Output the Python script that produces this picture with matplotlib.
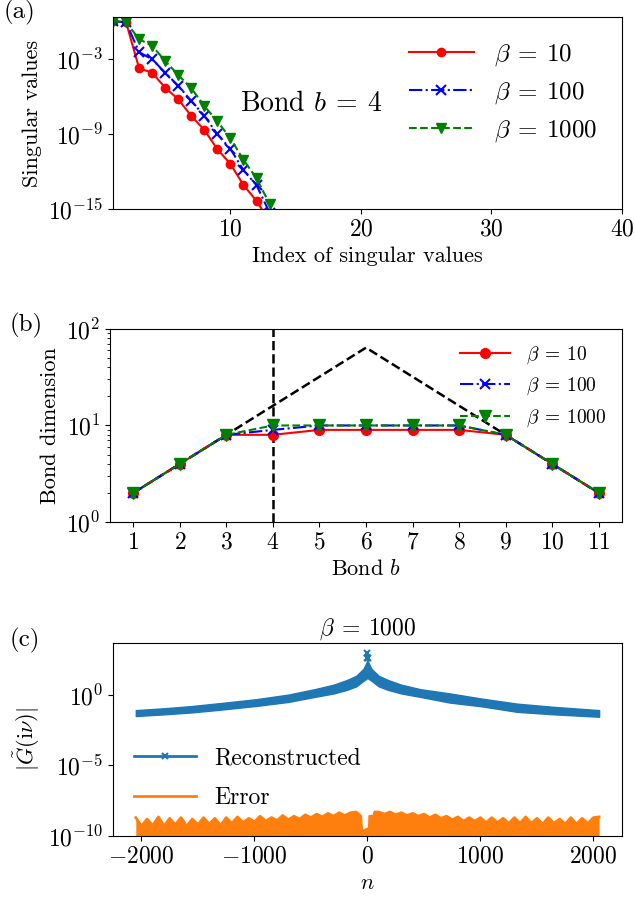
import matplotlib
matplotlib.use("Agg")
import matplotlib.pyplot as plt
import numpy as np

plt.rcParams["font.family"] = "serif"
plt.rcParams["font.serif"] = ["cmr10", "DejaVu Serif"]
plt.rcParams["mathtext.fontset"] = "cm"
plt.rcParams["axes.formatter.use_mathtext"] = True
plt.rcParams["font.size"] = 16
plt.rcParams["xtick.labelsize"] = 17
plt.rcParams["ytick.labelsize"] = 17

# (a) singular values at bond b=4, stored as log10 exponents
sv_index = [1, 2, 3, 4, 5, 6, 7, 8, 9, 10, 11, 12, 13]
sv_beta10 = [0.0, -0.05, -3.74, -4.1, -5.3, -6.22, -7.56, -8.68, -10.22,
             -11.4, -13.08, -14.36, -16.0]
sv_beta100 = [0.0, -0.05, -2.46, -3.02, -4.1, -5.14, -6.36, -7.54, -9.02,
              -10.2, -11.9, -13.1, -15.3]
sv_beta1000 = [0.0, -0.05, -1.42, -1.94, -3.16, -4.28, -5.34, -6.76, -8.0,
               -9.34, -11.08, -12.54, -14.6]

# (b) bond dimensions
bonds = [1, 2, 3, 4, 5, 6, 7, 8, 9, 10, 11]
dim_beta10 = [2, 4, 8, 8, 9, 9, 9, 9, 8, 4, 2]
dim_beta100 = [2, 4, 8, 9, 10, 10, 10, 10, 8, 4, 2]
dim_beta1000 = [2, 4, 8, 10, 10, 10, 10, 10, 8, 4, 2]
dim_max = [2, 4, 8, 16, 32, 64, 32, 16, 8, 4, 2]

# (c) reconstructed |G(i nu)|: band edges (log10)
band_n = [-2050, -1800, -1566, -1300, -979, -700, -470, -300, -183, -100,
          -35, -8, 0, 8, 35, 100, 183, 300, 470, 732, 1000, 1322, 1650, 2050]
band_upper = [-1.08, -0.95, -0.80, -0.58, -0.30, 0.02, 0.40, 0.72, 1.05,
              1.35, 1.85, 2.3, 2.5, 2.3, 1.85, 1.35, 1.05, 0.72, 0.40, 0.10,
              -0.25, -0.62, -0.85, -1.08]
band_lower = [-1.50, -1.38, -1.25, -1.05, -0.78, -0.50, -0.15, 0.10, 0.35,
              0.6, 1.0, 1.15, 1.2, 1.15, 1.0, 0.6, 0.35, 0.10, -0.15, -0.55,
              -0.80, -1.2, -1.38, -1.55]
peak_n = [-1, 0, 1]
peak_val = [2.6, 3.0, 2.6]

# error envelope (log10)
err_n = [-2050, -2000, -1950, -1900, -1850, -1800, -1750, -1700, -1650,
         -1600, -1550, -1500, -1450, -1400, -1350, -1300, -1250, -1200,
         -1150, -1100, -1050, -1000, -950, -900, -850, -800, -750, -700,
         -650, -600, -550, -500, -450, -400, -350, -300, -250, -200, -150,
         -100, -70, -60, -50, 0, 15, 20, 55, 65, 100, 150, 200, 250, 300,
         350, 400, 450, 500, 550, 600, 650, 700, 750, 800, 850, 900, 950,
         1000, 1050, 1100, 1150, 1200, 1250, 1300, 1350, 1400, 1450, 1500,
         1550, 1600, 1650, 1700, 1750, 1800, 1850, 1900, 1950, 2000, 2050]
err_top = [-8.7, -9.3, -8.8, -9.25, -8.65, -9.3, -8.75, -9.2, -8.7, -9.3,
           -8.8, -9.2, -8.7, -9.15, -8.75, -9.25, -8.7, -9.1, -8.65, -9.05,
           -8.75, -9.0, -8.6, -8.95, -8.7, -8.9, -8.55, -8.85, -8.6, -8.8,
           -8.5, -8.7, -8.45, -8.65, -8.4, -8.6, -8.35, -8.55, -8.35, -8.3,
           -8.5, -8.6, -9.7, -9.5, -9.8, -8.6, -8.6, -8.3, -8.3, -8.45, -8.3,
           -8.5, -8.35, -8.55, -8.4, -8.6, -8.45, -8.7, -8.5, -8.75, -8.6,
           -8.85, -8.65, -8.95, -8.7, -8.95, -8.7, -9.05, -8.7, -9.05, -8.75,
           -9.1, -8.7, -9.1, -8.65, -9.1, -8.75, -9.15, -8.7, -9.1, -8.8,
           -9.15, -8.7, -9.15, -8.75, -9.1, -8.7, -8.65]

fig = plt.figure(figsize=(6.34, 9.02), dpi=100)
ax_a = fig.add_axes([0.1782, 0.7683, 0.8028, 0.2129])
ax_b = fig.add_axes([0.1735, 0.4213, 0.8076, 0.2140])
ax_c = fig.add_axes([0.1782, 0.0732, 0.8028, 0.2140])

# ---- (a)
ax_a.semilogy(sv_index, 10.0 ** np.array(sv_beta10), "r-o", ms=6,
              label=r"$\beta\:=\:10$")
ax_a.semilogy(sv_index, 10.0 ** np.array(sv_beta100), "b-.x", ms=7, mew=1.5,
              label=r"$\beta\:=\:100$")
ax_a.semilogy(sv_index, 10.0 ** np.array(sv_beta1000), "g--v", ms=7,
              label=r"$\beta\:=\:1000$")
ax_a.set_xlim(1, 40)
ax_a.set_ylim(1e-15, 10 ** 0.36)
ax_a.set_yticks([1e-15, 1e-9, 1e-3])
ax_a.yaxis.set_minor_locator(matplotlib.ticker.NullLocator())
ax_a.set_xticks([10, 20, 30, 40])
ax_a.set_xlabel("Index of singular values")
ax_a.set_ylabel("Singular values")
ax_a.text(0.25, 0.51, r"Bond $b\:=\:4$", transform=ax_a.transAxes,
          fontsize=20)
ax_a.legend(loc="upper right", frameon=False, handlelength=2.6,
            fontsize=18, borderaxespad=0.6)

# ---- (b)
ax_b.semilogy(bonds, dim_max, "k--", lw=1.8, zorder=1)
ax_b.axvline(4, color="k", ls="--", lw=1.8, zorder=1)
ax_b.semilogy(bonds, dim_beta10, "r-o", ms=7, label=r"$\beta\:=\:10$")
ax_b.semilogy(bonds, dim_beta100, "b-.x", ms=7, mew=1.5,
              label=r"$\beta\:=\:100$")
ax_b.semilogy(bonds, dim_beta1000, "g--v", ms=8, label=r"$\beta\:=\:1000$")
ax_b.set_ylim(1, 100)
ax_b.set_xticks(bonds)
ax_b.set_xlabel(r"Bond $b$")
ax_b.set_ylabel("Bond dimension")
ax_b.legend(loc="upper right", frameon=False, handlelength=2.6,
            fontsize=14, borderaxespad=0.4)

# ---- (c)
ax_c.fill_between(band_n, 10.0 ** np.array(band_lower),
                  10.0 ** np.array(band_upper), color="C0", lw=1)
ax_c.semilogy(peak_n, 10.0 ** np.array(peak_val), "-x", color="C0", ms=4,
              mew=1.5, lw=2, label="Reconstructed")
ax_c.fill_between(err_n, 1e-11, 10.0 ** np.array(err_top), color="C1", lw=0)
ax_c.semilogy(err_n, 10.0 ** np.array(err_top), color="C1", lw=2,
              label="Error")
ax_c.set_xlim(-2252, 2252)
ax_c.set_ylim(1e-10, 10 ** 3.68)
ax_c.set_yticks([1e-10, 1e-5, 1e0])
ax_c.yaxis.set_minor_locator(matplotlib.ticker.NullLocator())
ax_c.set_xticks([-2000, -1000, 0, 1000, 2000])
ax_c.set_xlabel(r"$n$")
ax_c.set_ylabel(r"$|\tilde{G}(\mathrm{i}\nu)|$")
ax_c.set_title(r"$\beta\:=\:1000$", fontsize=17)
ax_c.legend(loc="lower left", bbox_to_anchor=(0.0, 0.03), frameon=False,
            handlelength=2.6, fontsize=17, labelspacing=0.75)

fig.text(0.005, 0.98, "(a)", fontsize=18)
fig.text(0.015, 0.633, "(b)", fontsize=18)
fig.text(0.015, 0.283, "(c)", fontsize=18)

fig.savefig("out.png", dpi=100)
